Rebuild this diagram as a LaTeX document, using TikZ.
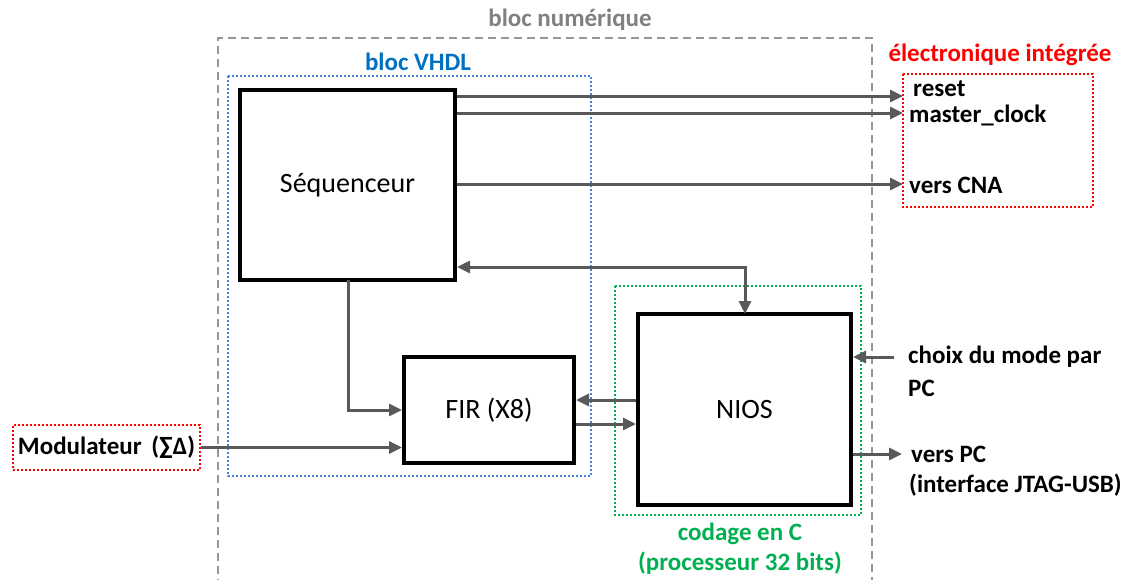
\documentclass[tikz,border=0pt]{standalone}
\usepackage{fontspec}
\setmainfont{Carlito}
\usetikzlibrary{arrows.meta}
\definecolor{grayb}{RGB}{150,150,150}
\definecolor{graylbl}{RGB}{128,128,128}
\definecolor{vhdl}{RGB}{70,130,215}
\definecolor{vhdltxt}{RGB}{0,112,192}
\definecolor{codeg}{RGB}{0,176,80}
\definecolor{arr}{RGB}{89,89,89}
\tikzset{
  blk/.style={draw=black, line width=4pt, fill=white, inner sep=0pt, font=\fontsize{28}{32}\selectfont},
  conn/.style={draw=arr, line width=3pt, -{Triangle[length=13pt,width=12pt]}},
  connb/.style={draw=arr, line width=3pt, {Triangle[length=13pt,width=12pt]}-{Triangle[length=13pt,width=12pt]}},
  lbl/.style={font=\bfseries\fontsize{25}{29}\selectfont, inner sep=0pt, anchor=west, align=left},
  ttl/.style={font=\bfseries\fontsize{25}{29}\selectfont, inner sep=0pt},
  dotbox/.style={line width=2pt, dash pattern=on 2pt off 2pt},
}
\begin{document}
\begin{tikzpicture}[x=1pt,y=-1pt]
\useasboundingbox (0,0) rectangle (1133,579);
\begin{scope}
\clip (0,0) rectangle (1133,579);
% bloc numerique
\draw[grayb, line width=1.6pt, dash pattern=on 8pt off 5pt] (218,600) -- (218,38) -- (872,38) -- (872,600);
\end{scope}
\node[ttl, text=graylbl] (tnum) at (570,20) {bloc numérique};
% bloc VHDL
\draw[vhdl, dotbox] (228,76) rectangle (591,476);
\node[ttl, text=vhdltxt] (tvhdl) at (418,62) {bloc VHDL};
% green box
\draw[codeg, dotbox] (615,286) rectangle (861,515);
\node[ttl, text=codeg, align=center] (tcode) at (740,549) {codage en C\\[1pt](processeur 32 bits)};
% red boxes
\draw[red, dotbox] (903,74) rectangle (1093,207);
\node[ttl, text=red] (telec) at (1000,55) {électronique intégrée};
\node[draw=red, dotbox, minimum width=187pt, minimum height=45pt, inner sep=0pt, font=\bfseries\fontsize{25}{29}\selectfont] (mod) at (106.5,447.5) {Modulateur\hspace{4pt} (∑Δ)};
% blocks
\node[blk, minimum width=215pt, minimum height=190pt] (seq) at (347.5,185) {Séquenceur};
\node[blk, minimum width=170pt, minimum height=106pt] (fir) at (489,410) {FIR (X8)};
\node[blk, minimum width=213pt, minimum height=191pt] (nios) at (744.5,409.5) {NIOS};
% right labels
\node[lbl, anchor=base west] (reset) at (913,96) {reset};
\node[lbl, anchor=base west] (mclk) at (909,122) {master\_clock};
\node[lbl] (cna) at (909,185) {vers CNA};
\node[lbl] (choix) at (908,357) {choix du mode par};
\node[lbl] (pc) at (908,388) {PC};
\node[lbl] (vpc) at (911,454) {vers PC};
\node[lbl] (jtag) at (909,485) {(interface JTAG-USB)};
\coordinate (eR) at (903,96);
\coordinate (eM) at (903,113);
\coordinate (eC) at (903,184);
\coordinate (cIn) at (894,357);
\coordinate (pOut) at (902,454);
% connectors
\draw[conn] (seq.east |- eR) -- (eR);
\draw[conn] (seq.east |- eM) -- (eM);
\draw[conn] (seq.east |- eC) -- (eC);
\draw[connb] (seq.east |- 0,267) -- (745,267) -- (745,314);
\draw[conn] (348,280) -- (348,410) -- (fir.west |- 0,410);
\draw[conn] (mod.east) -- (fir.west |- mod.east);
\draw[conn] (nios.west |- 0,400) -- (fir.east |- 0,400);
\draw[conn] (fir.east |- 0,424) -- (nios.west |- 0,424);
\draw[conn] (cIn) -- (nios.east |- cIn);
\draw[conn] (nios.east |- pOut) -- (pOut);
\end{tikzpicture}
\end{document}
